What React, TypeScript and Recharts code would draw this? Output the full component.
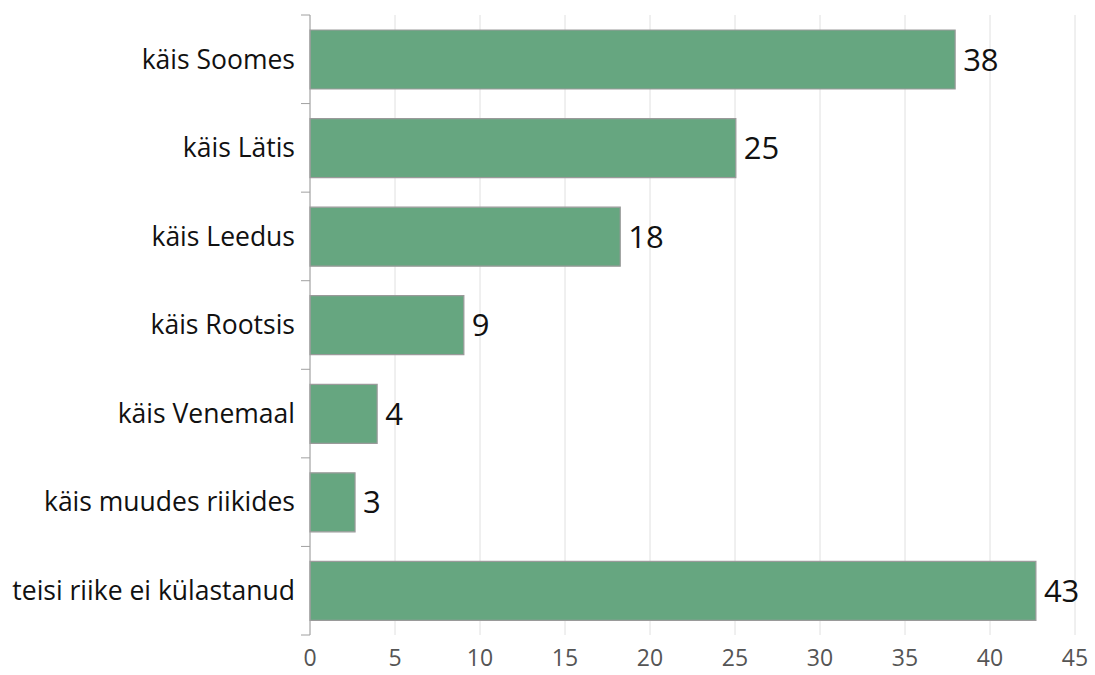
import React from 'react'
import { BarChart, Bar, XAxis, YAxis, CartesianGrid, LabelList } from 'recharts'

const categories = [
  'käis Soomes',
  'käis Lätis',
  'käis Leedus',
  'käis Rootsis',
  'käis Venemaal',
  'käis muudes riikides',
  'teisi riike ei külastanud',
]
const shares = [37.95, 25.05, 18.25, 9.05, 3.95, 2.65, 42.7]
const xTicks = [0, 5, 10, 15, 20, 25, 30, 35, 40, 45]

const data = categories.map((name, i) => ({ name, value: shares[i] }))

const W = 1095
const H = 675
const X_AXIS_H = 40
const MARGIN = { top: 15, right: 20, bottom: 0, left: 0 }
const BAND = (H - MARGIN.top - MARGIN.bottom - X_AXIS_H) / categories.length
const FONT = '"Open Sans", Lato, sans-serif'

function CategoryTick(props: any) {
  const { x, y, payload, index } = props
  const half = BAND / 2
  return (
    <g>
      <line x1={x - 9} x2={x} y1={y - half} y2={y - half} stroke="#a0a0a0" />
      {index === categories.length - 1 && (
        <line x1={x - 9} x2={x} y1={y + half} y2={y + half} stroke="#a0a0a0" />
      )}
      <text x={x - 15} y={y} dy="0.35em" textAnchor="end" fontSize={26.5} fill="#111" fontFamily={FONT}>
        {payload.value}
      </text>
    </g>
  )
}

export default function App() {
  return (
    <div style={{ position: 'fixed', left: 0, top: 0, background: '#fff' }}>
      <BarChart width={W} height={H} data={data} layout="vertical" margin={MARGIN} barSize={59}>
        <CartesianGrid horizontal={false} stroke="#e0e0e0" />
        <XAxis
          type="number"
          domain={[0, 45]}
          ticks={xTicks}
          height={X_AXIS_H}
          axisLine={false}
          tickLine={false}
          tickSize={0}
          tickMargin={15}
          tick={{ fontSize: 23, fill: '#555', fontFamily: FONT }}
        />
        <YAxis
          type="category"
          dataKey="name"
          width={310}
          tickSize={0}
          tickMargin={0}
          tickLine={false}
          axisLine={{ stroke: '#a0a0a0' }}
          tick={<CategoryTick />}
          interval={0}
        />
        <Bar dataKey="value" fill="#66a680" stroke="#9a9a9a" strokeWidth={1.2} isAnimationActive={false}>
          <LabelList
            dataKey="value"
            position="right"
            offset={8}
            formatter={(v: any) => Math.round(Number(v))}
            style={{ fontSize: 31, fill: '#111', fontFamily: FONT }}
          />
        </Bar>
      </BarChart>
    </div>
  )
}
